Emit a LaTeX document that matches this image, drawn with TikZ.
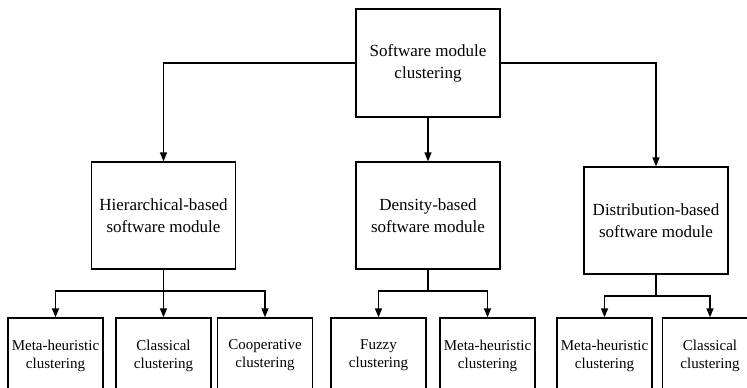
\documentclass[tikz,border=0pt]{standalone}
\usepackage{fontspec}
\setmainfont{Liberation Serif}
\usetikzlibrary{arrows.meta}
\begin{document}
\begin{tikzpicture}[x=1pt,y=-1pt,
  box/.style={draw,line width=1.3pt,inner sep=0pt,align=center},
  bigbox/.style={box,minimum width=144pt,minimum height=107pt,font=\fontsize{17}{22}\selectfont},
  leafbox/.style={box,minimum width=95pt,minimum height=75pt,font=\fontsize{15}{18}\selectfont},
  link/.style={line width=1.3pt},
  arr/.style={link,-{Triangle[length=9pt,width=7pt]}}]
\useasboundingbox (0,0) rectangle (747,388);

% root and second level
\node[bigbox,minimum height=108pt] (root) at (428,63) {Software module\\clustering};
\node[bigbox] (hier) at (163.5,215.5) {Hierarchical-based\\software module};
\node[bigbox] (dens) at (428,215.5) {Density-based\\software module};
\node[bigbox] (dist) at (656,220.5) {Distribution-based\\software module};

% leaves
\node[leafbox] (h1) at (55.5,355.5) {Meta-heuristic\\clustering};
\node[leafbox] (h2) at (163.5,355.5) {Classical\\clustering};
\node[leafbox] (h3) at (265,355.5) {Cooperative\\clustering};
\node[leafbox] (d1) at (378.5,355.5) {Fuzzy\\clustering};
\node[leafbox] (d2) at (487.5,355.5) {Meta-heuristic\\clustering};
\node[leafbox] (s1) at (604.5,355.5) {Meta-heuristic\\clustering};
\node[leafbox] (s2) at (710,355.5) {Classical\\clustering};

% root to second level
\draw[arr] (root.west) -| (hier.north);
\draw[arr] (root.south) -- (dens.north);
\draw[arr] (root.east) -| (dist.north);

% junctions below the second level
\coordinate (hj) at (163.5,291);
\coordinate (dj) at (428,291);
\coordinate (sj) at (656,296);

\draw[link] (hier.south) -- (hj);
\draw[arr] (hj) -| (h1.north);
\draw[arr] (hj) -- (h2.north);
\draw[arr] (hj) -| (h3.north);

\draw[link] (dens.south) -- (dj);
\draw[arr] (dj) -| (d1.north);
\draw[arr] (dj) -| (d2.north);

\draw[link] (dist.south) -- (sj);
\draw[arr] (sj) -| (s1.north);
\draw[arr] (sj) -| (s2.north);
\end{tikzpicture}
\end{document}
